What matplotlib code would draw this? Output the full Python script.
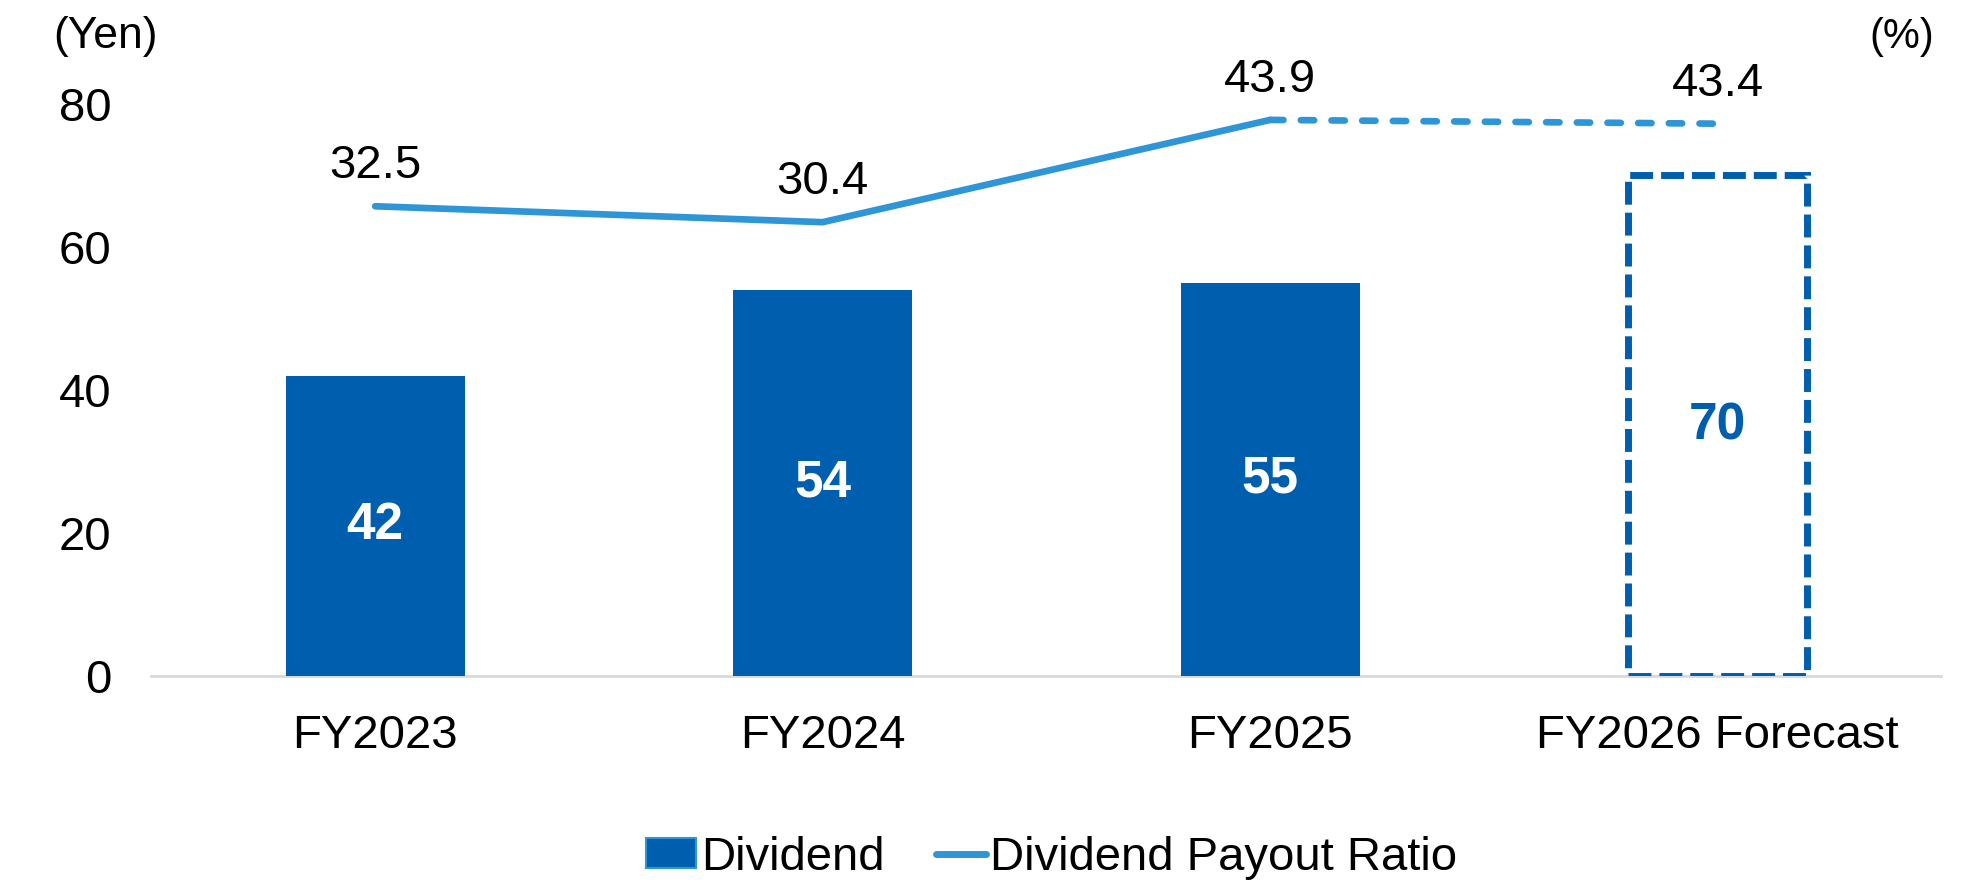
import numpy as np
import matplotlib.pyplot as plt
from matplotlib.patches import Patch
from matplotlib.lines import Line2D

# Données
categories = ["FY2023", "FY2024", "FY2025", "FY2026 Forecast"]
dividend = [42, 54, 55, 70]
payout_ratio = [32.5, 30.4, 43.9, 43.4]
n_actual = 3  # les trois premières années sont réalisées, la dernière est une prévision

bar_color = "#005EAE"
line_color = "#2E96D6"

plt.rcParams["font.family"] = ["Liberation Sans", "DejaVu Sans"]

fig = plt.figure(figsize=(19.64, 8.91), dpi=100)
ax = fig.add_axes([0.0771, 0.2413, 0.9114, 0.642])
x = np.arange(len(categories))

# Barres du dividende
ax.bar(x[:n_actual], dividend[:n_actual], width=0.4, color=bar_color, zorder=3)
ax.bar(x[n_actual:], dividend[n_actual:], width=0.4, fill=False,
       edgecolor=bar_color, linewidth=5, linestyle=(0, (3.3, 1.15)), zorder=3)

for i, v in enumerate(dividend):
    col = "white" if i < n_actual else bar_color
    ax.text(x[i], v / 2, str(v), ha="center", va="center",
            fontsize=37, fontweight="bold", color=col, zorder=4)

ax.set_xlim(-0.5, len(categories) - 0.5)
ax.set_ylim(0, 80)
ax.set_yticks([0, 20, 40, 60, 80])
ax.set_xticks(x)
ax.set_xticklabels(categories)
ax.tick_params(axis="y", length=0, labelsize=34, pad=29)
ax.tick_params(axis="x", length=0, labelsize=34, pad=27)
for s in ["top", "right", "left"]:
    ax.spines[s].set_visible(False)
ax.spines["bottom"].set_color("#D9D9D9")
ax.spines["bottom"].set_linewidth(2)

# Taux de distribution sur un axe secondaire caché
ax2 = ax.twinx()
ax2.set_ylim(-29.5, 46)
ax2.axis("off")
ax2.plot(x[:n_actual], payout_ratio[:n_actual], color=line_color, linewidth=4.8,
         solid_capstyle="round", solid_joinstyle="miter")
ax2.plot(x[n_actual - 1:], payout_ratio[n_actual - 1:], color=line_color,
         linewidth=4.8, linestyle=(0, (2.0, 2.6)), dash_capstyle="round")
for i, v in enumerate(payout_ratio):
    ax2.annotate(f"{v:.1f}", (x[i], v), xytext=(0, 20), textcoords="offset points",
                 ha="center", va="baseline", fontsize=34)

# Unités
fig.text(53 / 1964, 1 - 48 / 891, "(Yen)", fontsize=32, ha="left", va="baseline")
fig.text(1934 / 1964, 1 - 48 / 891, "(%)", fontsize=30, ha="right", va="baseline")

# Légende
handles = [
    Patch(facecolor=bar_color, edgecolor=line_color, linewidth=1.5),
    Line2D([0], [0], color=line_color, linewidth=5, solid_capstyle="round"),
]
fig.legend(handles, ["Dividend", "Dividend Payout Ratio"], loc="center",
           bbox_to_anchor=(1052 / 1964, 1 - 858 / 891), ncol=2, frameon=False,
           fontsize=34, handlelength=1.05, handleheight=0.6, handletextpad=0.1,
           columnspacing=1.1)

fig.savefig("out.png", dpi=100)
